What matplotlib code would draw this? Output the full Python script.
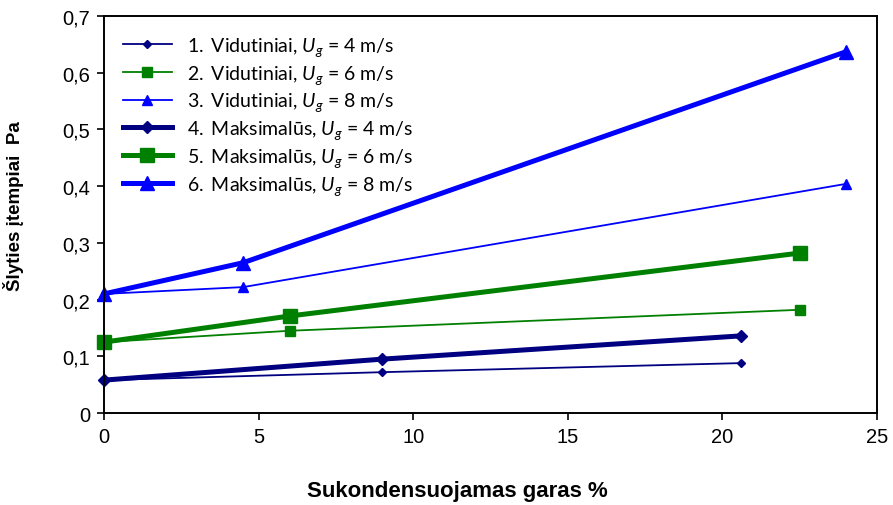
import matplotlib
matplotlib.use("Agg")
import matplotlib.pyplot as plt

# Data
x_navy = [0, 9, 20.6]
avg_4 = [0.058, 0.072, 0.088]
max_4 = [0.058, 0.095, 0.136]

x_green = [0, 6, 22.5]
avg_6 = [0.125, 0.145, 0.182]
max_6 = [0.125, 0.171, 0.282]

x_blue = [0, 4.5, 24]
avg_8 = [0.210, 0.222, 0.404]
max_8 = [0.210, 0.265, 0.637]

labels = [
    r'$\mathit{1.}$ Vidutiniai, $U_g$ = 4 m/s',
    r'$\mathit{2.}$ Vidutiniai, $U_g$ = 6 m/s',
    r'$\mathit{3.}$ Vidutiniai, $U_g$ = 8 m/s',
    r'$\mathit{4.}$ Maksimalūs, $U_g$ = 4 m/s',
    r'$\mathit{5.}$ Maksimalūs, $U_g$ = 6 m/s',
    r'$\mathit{6.}$ Maksimalūs, $U_g$ = 8 m/s',
]

plt.rcParams['mathtext.fontset'] = 'custom'
plt.rcParams['mathtext.rm'] = 'Lato'
plt.rcParams['mathtext.it'] = 'Lato:italic'

fig = plt.figure(figsize=(8.93, 5.06), dpi=100)
ax = fig.add_axes([0.1165, 0.1818, 0.8655, 0.7846])

navy, green, blue = '#000080', '#008000', '#0000FF'

ax.plot(x_navy, avg_4, color=navy, lw=1.3, marker='D', ms=4, label=labels[0])
ax.plot(x_green, avg_6, color=green, lw=1.3, marker='s', ms=6.5, label=labels[1])
ax.plot(x_blue, avg_8, color=blue, lw=1.3, marker='^', ms=6.5, label=labels[2])
ax.plot(x_navy, max_4, color=navy, lw=3.6, marker='D', ms=6.5, label=labels[3])
ax.plot(x_green, max_6, color=green, lw=3.6, marker='s', ms=9.5, label=labels[4])
ax.plot(x_blue, max_8, color=blue, lw=3.6, marker='^', ms=10, label=labels[5])

ax.set_xlim(0, 25)
ax.set_ylim(0, 0.7)
ax.set_xticks([0, 5, 10, 15, 20, 25])
ax.set_yticks([0, 0.1, 0.2, 0.3, 0.4, 0.5, 0.6, 0.7])
ax.set_yticklabels(['0', '0,1', '0,2', '0,3', '0,4', '0,5', '0,6', '0,7'])
ax.tick_params(direction='out', length=5, width=1.2, labelsize=14.5, pad=5)
for lbl in ax.get_xticklabels() + ax.get_yticklabels():
    lbl.set_family('Liberation Sans')
for s in ax.spines.values():
    s.set_linewidth(1.4)
for line in ax.lines:
    line.set_clip_on(False)

ax.set_xlabel('Sukondensuojamas garas %', fontsize=16, fontweight='bold',
              family='Liberation Sans')
ax.xaxis.set_label_coords(0.457, -0.168)
ax.set_ylabel('Šlyties įtempiai  Pa', fontsize=13.5, fontweight='bold',
              family='Liberation Sans')
ax.yaxis.set_label_coords(-0.104, 0.524)

leg = ax.legend(loc='upper left', bbox_to_anchor=(0.0246, 0.952), frameon=False,
                prop={'family': 'Lato', 'size': 14}, handlelength=2.5,
                handletextpad=0.77, labelspacing=0.25, borderaxespad=0,
                borderpad=0)

fig.savefig('out.png', dpi=100)
